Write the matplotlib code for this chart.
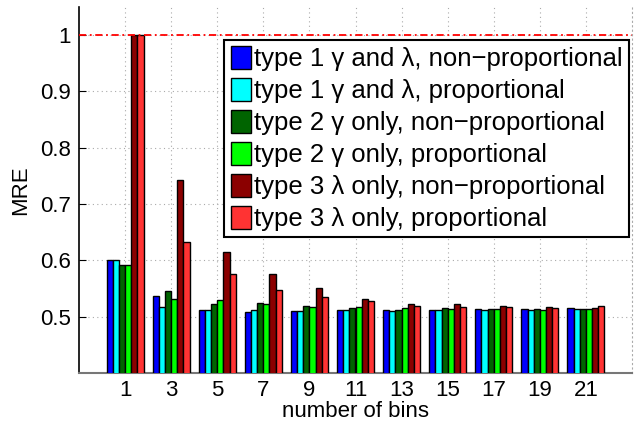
import matplotlib.pyplot as plt
import numpy as np

plt.rcParams['font.family'] = ['Liberation Sans', 'DejaVu Sans']

bins = [1, 3, 5, 7, 9, 11, 13, 15, 17, 19, 21]

# MRE per number of bins, one list per method
t1_nonprop = [0.601, 0.537, 0.512, 0.509, 0.510, 0.511, 0.511, 0.512, 0.514, 0.514, 0.515]
t1_prop    = [0.601, 0.518, 0.511, 0.511, 0.510, 0.511, 0.510, 0.512, 0.512, 0.512, 0.514]
t2_nonprop = [0.592, 0.545, 0.523, 0.525, 0.519, 0.516, 0.512, 0.516, 0.514, 0.514, 0.513]
t2_prop    = [0.592, 0.531, 0.529, 0.522, 0.518, 0.517, 0.515, 0.513, 0.513, 0.512, 0.514]
t3_nonprop = [1.000, 0.743, 0.615, 0.576, 0.551, 0.532, 0.523, 0.522, 0.519, 0.518, 0.516]
t3_prop    = [1.000, 0.633, 0.576, 0.548, 0.535, 0.527, 0.519, 0.518, 0.518, 0.516, 0.519]

series = [t1_nonprop, t1_prop, t2_nonprop, t2_prop, t3_nonprop, t3_prop]
labels = ['type 1 \u03b3 and \u03bb, non\u2212proportional',
          'type 1 \u03b3 and \u03bb, proportional',
          'type 2 \u03b3 only, non\u2212proportional',
          'type 2 \u03b3 only, proportional',
          'type 3 \u03bb only, non\u2212proportional',
          'type 3 \u03bb only, proportional']
colors = ['#0000ff', '#00ffff', '#006400', '#00ff00', '#8b0000', '#ff3333']

fig = plt.figure(figsize=(6.42, 4.21), dpi=100)
ax = fig.add_axes([79/642, 48/421, 553/642, 366/421])

x = np.arange(1, len(bins) + 1)
w = 0.8 / len(series)
for k in range(len(series)):
    ax.bar(x - 0.4 + w * (k + 0.5), series[k], width=w, color=colors[k],
           edgecolor='black', linewidth=1.0, label=labels[k], zorder=3)

ax.axhline(1.0, color='red', linestyle=(0, (4, 2, 1, 2)), linewidth=1.3, zorder=4)

ax.set_xlim(0, 12)
ax.set_ylim(0.4, 1.05)
ax.set_xticks(x)
ax.set_xticklabels([str(b) for b in bins])
ax.set_yticks([0.5, 0.6, 0.7, 0.8, 0.9, 1.0])
ax.set_yticklabels(['0.5', '0.6', '0.7', '0.8', '0.9', '1'])
ax.tick_params(axis='both', labelsize=16, direction='in', length=5)
ax.tick_params(axis='x', length=0, pad=5)
ax.tick_params(axis='y', pad=6)
ax.grid(True, linestyle=(0, (1, 3)), color='#aaaaaa', linewidth=0.8, zorder=0)

ax.spines['top'].set_visible(False)
ax.spines['right'].set_linestyle((0, (1, 3)))
ax.spines['right'].set_color('#aaaaaa')
ax.spines['bottom'].set_color('#777777')
ax.spines['bottom'].set_linewidth(1.5)
ax.spines['left'].set_linewidth(1.2)

ax.set_ylabel('MRE', fontsize=16, labelpad=6)
ax.set_xlabel('number of bins', fontsize=16, labelpad=0)

leg = ax.legend(loc='upper right', fontsize=18.5,
                handlelength=0.8, handleheight=0.97, handletextpad=0.12,
                labelspacing=0.27, borderpad=0.24, borderaxespad=0,
                fancybox=False, framealpha=1)
leg.set_bbox_to_anchor((629/642, 1 - 40/421), transform=fig.transFigure)
leg.get_frame().set_edgecolor('black')
leg.get_frame().set_linewidth(1.5)

fig.savefig('out.png', dpi=100)
